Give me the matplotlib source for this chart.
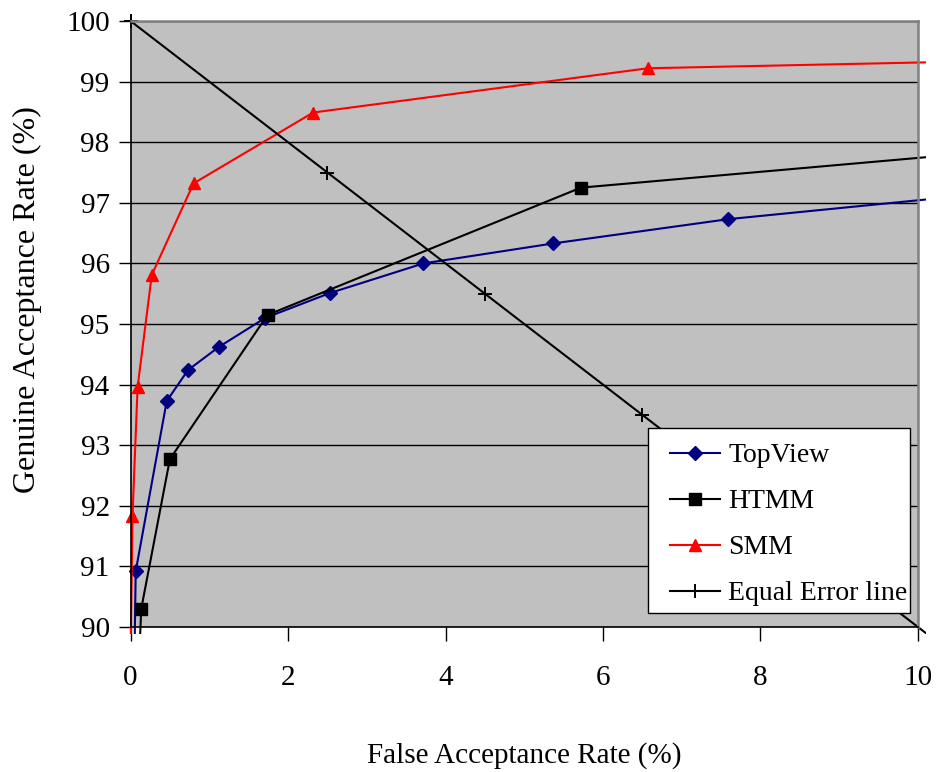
import matplotlib
matplotlib.use("Agg")
import matplotlib.pyplot as plt
from matplotlib.patches import Rectangle

plt.rcParams['font.family'] = ['Liberation Serif', 'DejaVu Serif']

# ROC-style curves: false acceptance rate (%) vs genuine acceptance rate (%)
topview_far = [0.05, 0.066, 0.46, 0.73, 1.12, 1.71, 2.53, 3.72, 5.37, 7.59, 12.0]
topview_gar = [89.5, 90.92, 93.73, 94.24, 94.62, 95.10, 95.51, 96.00, 96.33, 96.73, 97.30]

htmm_far = [0.11, 0.136, 0.50, 1.74, 5.72, 12.0]
htmm_gar = [89.5, 90.30, 92.77, 95.15, 97.25, 97.97]

smm_far = [0.0, 0.025, 0.09, 0.27, 0.80, 2.32, 6.57, 12.0]
smm_gar = [89.5, 91.83, 93.96, 95.81, 97.32, 98.49, 99.22, 99.37]

eer_far = [0, 2.5, 4.5, 6.5, 8.5, 10.5]
eer_gar = [100, 97.5, 95.5, 93.5, 91.5, 89.5]

x_ticks = [0, 2, 4, 6, 8, 10]
y_ticks = [90, 91, 92, 93, 94, 95, 96, 97, 98, 99, 100]

fig = plt.figure(figsize=(9.37, 7.72), dpi=100)
ax = fig.add_axes([0.1393, 0.1878, 0.8404, 0.785])
ax.set_facecolor('#C0C0C0')

FS = 21
lw = 1.5
lines = []
lines += ax.plot(topview_far, topview_gar, color='#000080', lw=lw, marker='D',
                 ms=7.3, mfc='#000080', mec='#000080', label='TopView')
lines += ax.plot(htmm_far, htmm_gar, color='black', lw=lw, marker='s',
                 ms=8.5, mfc='black', mec='black', label='HTMM')
lines += ax.plot(smm_far, smm_gar, color='#FF0000', lw=lw, marker='^',
                 ms=9, mfc='#FF0000', mec='#FF0000', label='SMM')
lines += ax.plot(eer_far, eer_gar, color='black', lw=lw, marker='+',
                 ms=10, mew=1.4, label='Equal Error line')

# let the series run slightly past the plot frame
clip = Rectangle((-0.01, -0.011), 1.02, 1.022, transform=ax.transAxes,
                 facecolor='none', edgecolor='none')
ax.add_patch(clip)
for ln in lines:
    ln.set_clip_path(clip)

ax.set_xlim(0, 10)
ax.set_ylim(90, 100)
ax.set_xticks(x_ticks)
ax.set_yticks(y_ticks)
ax.set_xticklabels([str(v) for v in x_ticks])
ax.set_yticklabels([str(v) for v in y_ticks])

ax.yaxis.grid(True, color='black', lw=1.0)
ax.xaxis.grid(False)
ax.set_axisbelow(True)

for side in ('left', 'bottom'):
    ax.spines[side].set_color('black')
    ax.spines[side].set_linewidth(1.2)
for side in ('top', 'right'):
    ax.spines[side].set_color('#808080')
    ax.spines[side].set_linewidth(1.8)

ax.tick_params(axis='y', direction='out', length=9, width=1.0, pad=6,
               labelsize=FS, color='black')
ax.tick_params(axis='x', direction='out', length=10, width=1.0, pad=17,
               labelsize=FS, color='black')

ax.set_xlabel('False Acceptance Rate (%)', fontsize=FS)
ax.set_ylabel('Genuine Acceptance Rate (%)', fontsize=23)
ax.xaxis.set_label_coords(0.5, -0.19)
ax.yaxis.set_label_coords(-0.112, 0.54)

# legend box drawn separately so the entries can sit with a wider left margin
box = Rectangle((0.657, 0.0231), 0.9898 - 0.657, 0.328 - 0.0231,
                transform=ax.transAxes, facecolor='white', edgecolor='black',
                lw=1.0, zorder=4.5)
ax.add_patch(box)
leg = ax.legend(loc='upper left', bbox_to_anchor=(0.685, 0.304),
                borderaxespad=0, borderpad=0, fontsize=20, frameon=False,
                handlelength=1.8, handletextpad=0.3, labelspacing=0.74)
leg.set_zorder(5)

fig.savefig('out.png', dpi=100)
